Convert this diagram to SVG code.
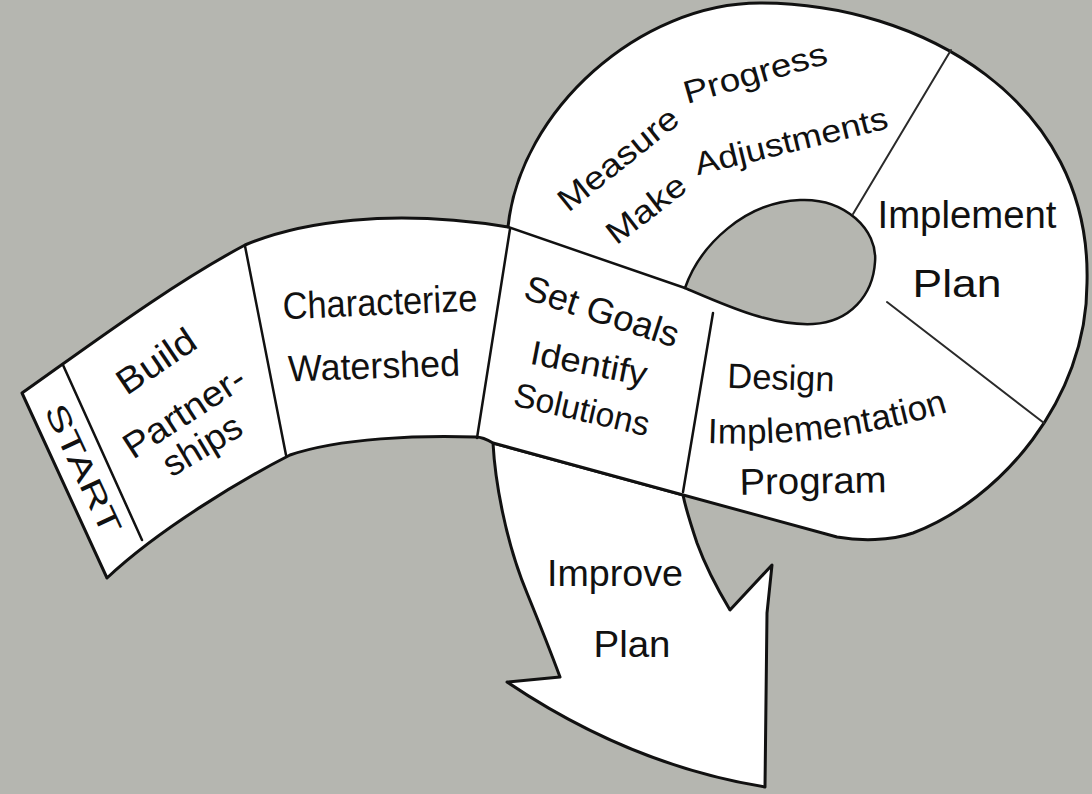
<svg xmlns="http://www.w3.org/2000/svg" width="1092" height="794" viewBox="0 0 1092 794">
  <style>
    .bg { fill: #b5b6b0; }
    .shape { fill: #ffffff; stroke: #111111; stroke-width: 3; stroke-linejoin: round; }
    .hole { fill: #b5b6b0; stroke: #111111; stroke-width: 2.5; }
    .div { stroke: #111111; stroke-width: 2.5; fill: none; stroke-linecap: round; }
    .thin { stroke: #2a2a2a; stroke-width: 2; }
    .lbl { font-family: "Liberation Sans", Arial, sans-serif; fill: #111111; dominant-baseline: central; }
    .mid { text-anchor: middle; }
  </style>
  <defs>
    <path id="arcImpl" d="M 708,430 C 770,432 850,430 952,397"/>
  </defs>

  <rect class="bg" x="0" y="0" width="1092" height="794"/>

  <!-- downward arrow leaving the loop -->
  <g id="improve-plan">
    <path class="shape" d="M 493,443 C 495,480 505,540 527,593 C 538,620 550,650 560,677 L 507,682 Q 630,765 765,787 L 767,613 L 772,565 L 730,610 C 718,590 705,565 697,543 C 692,528 686,510 683,495 Z"/>
    <text class="lbl mid" font-size="37" x="615" y="573" textLength="136" lengthAdjust="spacingAndGlyphs">Improve</text>
    <text class="lbl mid" font-size="37" x="632" y="644" textLength="77" lengthAdjust="spacingAndGlyphs">Plan</text>
  </g>

  <!-- ribbon and loop body -->
  <g id="ribbon">
    <path class="shape" d="M 22,393 C 90,345 170,285 245,245 C 300,222 390,208 508,227 C 520,110 640,3 760,3 C 920,3 1092,100 1087,283 C 1087,400 1000,500 913,533 C 890,541 860,541 837,537 L 493,443 C 488,440 482,437 476,437 C 420,435 340,438 290,455 C 245,478 160,528 107,578 Z"/>
    <path class="hole" d="M 685,288 C 700,245 745,202 800,200 C 845,198 878,230 875,262 C 873,295 850,322 813,324 C 770,326 725,305 685,288 Z"/>
  </g>

  <!-- segment dividers -->
  <g id="connectors">
    <line class="div" x1="63" y1="365" x2="142" y2="540"/>
    <line class="div" x1="245" y1="246" x2="286" y2="455"/>
    <line class="div" x1="510" y1="229" x2="477" y2="438"/>
    <line class="div" x1="508" y1="227" x2="685" y2="288"/>
    <line class="div" x1="713" y1="313" x2="683" y2="492"/>
    <line class="div thin" x1="951" y1="50" x2="853" y2="214"/>
    <line class="div thin" x1="887" y1="302" x2="1044" y2="423"/>
  </g>

  <g id="start">
    <text class="lbl mid" font-size="31" transform="translate(83,469) rotate(65)" textLength="140" lengthAdjust="spacingAndGlyphs">START</text>
  </g>

  <g id="build-partnerships">
    <text class="lbl mid" font-size="36" transform="translate(156,361) rotate(-34)" textLength="88" lengthAdjust="spacingAndGlyphs">Build</text>
    <text class="lbl mid" font-size="36" transform="translate(184,412) rotate(-33)" textLength="138" lengthAdjust="spacingAndGlyphs">Partner-</text>
    <text class="lbl mid" font-size="36" transform="translate(202,445) rotate(-31)" textLength="86" lengthAdjust="spacingAndGlyphs">ships</text>
  </g>

  <g id="characterize-watershed">
    <text class="lbl mid" font-size="38" transform="translate(380,302) rotate(-2.5)" textLength="195" lengthAdjust="spacingAndGlyphs">Characterize</text>
    <text class="lbl mid" font-size="37" transform="translate(374,366) rotate(-2)" textLength="172" lengthAdjust="spacingAndGlyphs">Watershed</text>
  </g>

  <g id="set-goals">
    <text class="lbl mid" font-size="36" transform="translate(602,311) rotate(18)" textLength="160" lengthAdjust="spacingAndGlyphs">Set Goals</text>
    <text class="lbl mid" font-size="34" transform="translate(589,363) rotate(11)" textLength="118" lengthAdjust="spacingAndGlyphs">Identify</text>
    <text class="lbl mid" font-size="34" transform="translate(582,409) rotate(13)" textLength="138" lengthAdjust="spacingAndGlyphs">Solutions</text>
  </g>

  <g id="design-program">
    <text class="lbl mid" font-size="35" transform="translate(781,377) rotate(2)" textLength="107" lengthAdjust="spacingAndGlyphs">Design</text>
    <text class="lbl" font-size="35"><textPath href="#arcImpl" textLength="240" lengthAdjust="spacingAndGlyphs">Implementation</textPath></text>
    <text class="lbl mid" font-size="37" transform="translate(813,481) rotate(-1)" textLength="147" lengthAdjust="spacingAndGlyphs">Program</text>
  </g>

  <g id="implement-plan">
    <text class="lbl mid" font-size="38" x="967" y="215" textLength="179" lengthAdjust="spacingAndGlyphs">Implement</text>
    <text class="lbl mid" font-size="38" x="957" y="284" textLength="89" lengthAdjust="spacingAndGlyphs">Plan</text>
  </g>

  <g id="measure-adjust">
    <text class="lbl mid" font-size="32" transform="translate(618,159) rotate(-38.7)" textLength="145" lengthAdjust="spacingAndGlyphs">Measure</text>
    <text class="lbl mid" font-size="32" transform="translate(755,73) rotate(-16)" textLength="148" lengthAdjust="spacingAndGlyphs">Progress</text>
    <text class="lbl mid" font-size="32" transform="translate(646,209) rotate(-37.7)" textLength="92" lengthAdjust="spacingAndGlyphs">Make</text>
    <text class="lbl mid" font-size="32" transform="translate(791,141) rotate(-13.8)" textLength="198" lengthAdjust="spacingAndGlyphs">Adjustments</text>
  </g>
</svg>
